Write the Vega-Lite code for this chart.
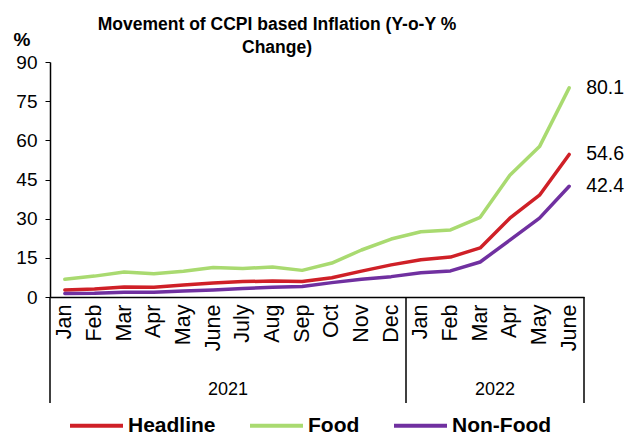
{
  "$schema": "https://vega.github.io/schema/vega-lite/v6.json",
  "width": 534,
  "height": 235,
  "autosize": {"type": "none"},
  "padding": {"left": 50, "top": 62, "right": 50, "bottom": 138},
  "background": "white",
  "config": {
    "view": {"stroke": null},
    "font": "Liberation Sans",
    "axis": {"labelOverlap": false, "labelBound": false, "labelFlush": false}
  },
  "title": {
    "text": ["Movement of CCPI based Inflation (Y-o-Y %", "Change)"],
    "fontSize": 17.5,
    "fontWeight": "bold",
    "font": "Liberation Sans",
    "color": "black",
    "anchor": "middle",
    "frame": "group",
    "dx": -40,
    "lineHeight": 23,
    "offset": -26
  },
  "datasets": {
    "cpi": [
      {"i": 0, "year": "2021", "month": "Jan", "series": "Headline", "value": 2.7},
      {"i": 1, "year": "2021", "month": "Feb", "series": "Headline", "value": 3.1},
      {"i": 2, "year": "2021", "month": "Mar", "series": "Headline", "value": 3.8},
      {"i": 3, "year": "2021", "month": "Apr", "series": "Headline", "value": 3.7},
      {"i": 4, "year": "2021", "month": "May", "series": "Headline", "value": 4.6},
      {"i": 5, "year": "2021", "month": "June", "series": "Headline", "value": 5.4},
      {"i": 6, "year": "2021", "month": "July", "series": "Headline", "value": 5.9},
      {"i": 7, "year": "2021", "month": "Aug", "series": "Headline", "value": 6.1},
      {"i": 8, "year": "2021", "month": "Sep", "series": "Headline", "value": 5.9},
      {"i": 9, "year": "2021", "month": "Oct", "series": "Headline", "value": 7.4},
      {"i": 10, "year": "2021", "month": "Nov", "series": "Headline", "value": 9.9},
      {"i": 11, "year": "2021", "month": "Dec", "series": "Headline", "value": 12.3},
      {"i": 12, "year": "2022", "month": "Jan", "series": "Headline", "value": 14.3},
      {"i": 13, "year": "2022", "month": "Feb", "series": "Headline", "value": 15.3},
      {"i": 14, "year": "2022", "month": "Mar", "series": "Headline", "value": 18.8},
      {"i": 15, "year": "2022", "month": "Apr", "series": "Headline", "value": 30.2},
      {"i": 16, "year": "2022", "month": "May", "series": "Headline", "value": 39.0},
      {"i": 17, "year": "2022", "month": "June", "series": "Headline", "value": 54.6},
      {"i": 0, "year": "2021", "month": "Jan", "series": "Food", "value": 6.8},
      {"i": 1, "year": "2021", "month": "Feb", "series": "Food", "value": 8.0},
      {"i": 2, "year": "2021", "month": "Mar", "series": "Food", "value": 9.6},
      {"i": 3, "year": "2021", "month": "Apr", "series": "Food", "value": 8.9},
      {"i": 4, "year": "2021", "month": "May", "series": "Food", "value": 9.9},
      {"i": 5, "year": "2021", "month": "June", "series": "Food", "value": 11.3},
      {"i": 6, "year": "2021", "month": "July", "series": "Food", "value": 10.9},
      {"i": 7, "year": "2021", "month": "Aug", "series": "Food", "value": 11.5},
      {"i": 8, "year": "2021", "month": "Sep", "series": "Food", "value": 10.2},
      {"i": 9, "year": "2021", "month": "Oct", "series": "Food", "value": 13.0},
      {"i": 10, "year": "2021", "month": "Nov", "series": "Food", "value": 18.0},
      {"i": 11, "year": "2021", "month": "Dec", "series": "Food", "value": 22.2},
      {"i": 12, "year": "2022", "month": "Jan", "series": "Food", "value": 25.0},
      {"i": 13, "year": "2022", "month": "Feb", "series": "Food", "value": 25.7},
      {"i": 14, "year": "2022", "month": "Mar", "series": "Food", "value": 30.5},
      {"i": 15, "year": "2022", "month": "Apr", "series": "Food", "value": 46.6},
      {"i": 16, "year": "2022", "month": "May", "series": "Food", "value": 57.6},
      {"i": 17, "year": "2022", "month": "June", "series": "Food", "value": 80.1},
      {"i": 0, "year": "2021", "month": "Jan", "series": "Non-Food", "value": 1.3},
      {"i": 1, "year": "2021", "month": "Feb", "series": "Non-Food", "value": 1.4},
      {"i": 2, "year": "2021", "month": "Mar", "series": "Non-Food", "value": 1.8},
      {"i": 3, "year": "2021", "month": "Apr", "series": "Non-Food", "value": 1.8},
      {"i": 4, "year": "2021", "month": "May", "series": "Non-Food", "value": 2.3},
      {"i": 5, "year": "2021", "month": "June", "series": "Non-Food", "value": 2.7},
      {"i": 6, "year": "2021", "month": "July", "series": "Non-Food", "value": 3.3},
      {"i": 7, "year": "2021", "month": "Aug", "series": "Non-Food", "value": 3.7},
      {"i": 8, "year": "2021", "month": "Sep", "series": "Non-Food", "value": 4.0},
      {"i": 9, "year": "2021", "month": "Oct", "series": "Non-Food", "value": 5.5},
      {"i": 10, "year": "2021", "month": "Nov", "series": "Non-Food", "value": 6.8},
      {"i": 11, "year": "2021", "month": "Dec", "series": "Non-Food", "value": 7.8},
      {"i": 12, "year": "2022", "month": "Jan", "series": "Non-Food", "value": 9.3},
      {"i": 13, "year": "2022", "month": "Feb", "series": "Non-Food", "value": 10.0},
      {"i": 14, "year": "2022", "month": "Mar", "series": "Non-Food", "value": 13.4},
      {"i": 15, "year": "2022", "month": "Apr", "series": "Non-Food", "value": 21.8},
      {"i": 16, "year": "2022", "month": "May", "series": "Non-Food", "value": 30.2},
      {"i": 17, "year": "2022", "month": "June", "series": "Non-Food", "value": 42.4}
    ],
    "years": [
      {"year": "2021", "mid": 5.5},
      {"year": "2022", "mid": 14.5}
    ],
    "dividers": [
      {"pos": -0.5},
      {"pos": 11.5},
      {"pos": 17.5}
    ]
  },
  "layer": [
    {
      "data": {"name": "cpi"},
      "mark": {"type": "line", "strokeWidth": 3.5, "strokeCap": "round", "strokeJoin": "round"},
      "encoding": {
        "x": {
          "field": "i",
          "type": "quantitative",
          "scale": {"domain": [-0.5, 17.5], "nice": false, "zero": false},
          "axis": {
            "title": null,
            "values": [0, 1, 2, 3, 4, 5, 6, 7, 8, 9, 10, 11, 12, 13, 14, 15, 16, 17],
            "tickCount": 40,
            "labelExpr": "['Jan','Feb','Mar','Apr','May','June','July','Aug','Sep','Oct','Nov','Dec','Jan','Feb','Mar','Apr','May','June'][datum.value]",
            "labelAngle": -90,
            "labelAlign": "right",
            "labelBaseline": "middle",
            "labelFontSize": 21.5,
            "labelColor": "black",
            "labelPadding": 7,
            "labelOverlap": false,
            "ticks": false,
            "grid": false,
            "domainColor": "black",
            "domainWidth": 1.5
          }
        },
        "y": {
          "field": "value",
          "type": "quantitative",
          "scale": {"domain": [0, 90], "nice": false},
          "axis": {
            "title": "%",
            "titleAngle": 0,
            "titleFontSize": 19,
            "titleFontWeight": "bold",
            "titleColor": "black",
            "titleAlign": "left",
            "titleBaseline": "alphabetic",
            "titleX": -37,
            "titleY": -17,
            "values": [0, 15, 30, 45, 60, 75, 90],
            "tickCount": 20,
            "labelFontSize": 19,
            "labelColor": "black",
            "labelPadding": 8,
            "labelOverlap": false,
            "tickColor": "black",
            "tickSize": 5,
            "grid": false,
            "domainColor": "black",
            "domainWidth": 1.5
          }
        },
        "color": {
          "field": "series",
          "type": "nominal",
          "scale": {
            "domain": ["Headline", "Food", "Non-Food"],
            "range": ["#CF2027", "#A9DA70", "#7030A0"]
          },
          "legend": {
            "title": null,
            "orient": "none",
            "legendX": 18,
            "legendY": 335,
            "direction": "horizontal",
            "symbolType": "stroke",
            "symbolSize": 2809,
            "symbolStrokeWidth": 4,
            "labelFontSize": 21,
            "labelFontWeight": "bold",
            "labelColor": "black",
            "labelOffset": 3,
            "columnPadding": 26
          }
        },
        "order": {"field": "i"}
      }
    },
    {
      "data": {"name": "cpi"},
      "transform": [{"filter": "datum.i == 17"}],
      "mark": {"type": "text", "align": "left", "baseline": "middle", "dx": 17, "fontSize": 19.5, "color": "black"},
      "encoding": {
        "x": {"field": "i", "type": "quantitative"},
        "y": {"field": "value", "type": "quantitative"},
        "text": {"field": "value", "type": "quantitative", "format": ".1f"}
      }
    },
    {
      "data": {"name": "dividers"},
      "mark": {"type": "rule", "color": "black", "strokeWidth": 1.5},
      "encoding": {
        "x": {"field": "pos", "type": "quantitative"},
        "y": {"datum": 0},
        "y2": {"datum": -40.6}
      }
    },
    {
      "data": {"name": "years"},
      "mark": {"type": "text", "align": "center", "baseline": "middle", "fontSize": 18, "color": "black"},
      "encoding": {
        "x": {"field": "mid", "type": "quantitative"},
        "y": {"datum": -35.6},
        "text": {"field": "year"}
      }
    }
  ]
}
